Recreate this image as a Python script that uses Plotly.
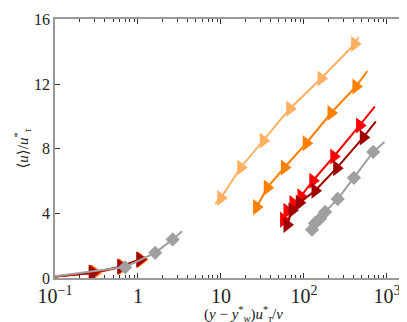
import plotly.graph_objects as go

# inner-scaled mean velocity profiles
lorange_lo_x = [0.1, 0.31, 0.66, 1.10, 1.25]
lorange_lo_y = [0.1, 0.33, 0.70, 1.14, 1.28]
lorange_hi_x = [8.5, 9.95, 17.3, 32.3, 67.5, 161, 408, 456]
lorange_hi_y = [4.6, 4.95, 6.84, 8.5, 10.48, 12.35, 14.48, 14.9]
lorange_mk_x = [0.31, 0.66, 1.10, 9.95, 17.3, 32.3, 67.5, 161, 408]
lorange_mk_y = [0.33, 0.70, 1.14, 4.95, 6.84, 8.5, 10.48, 12.35, 14.48]

orange_lo_x = [0.1, 0.30, 0.65, 1.09, 1.24]
orange_lo_y = [0.1, 0.33, 0.70, 1.14, 1.28]
orange_hi_x = [25, 26.9, 36.1, 58.1, 106.6, 212, 423, 580]
orange_hi_y = [4.2, 4.39, 5.59, 6.84, 8.34, 10.21, 11.85, 12.81]
orange_mk_x = [0.30, 0.65, 1.09, 26.9, 36.1, 58.1, 106.6, 212, 423]
orange_mk_y = [0.33, 0.70, 1.14, 4.39, 5.59, 6.84, 8.34, 10.21, 11.85]

red_lo_x = [0.1, 0.29, 0.63, 1.07, 1.22]
red_lo_y = [0.1, 0.33, 0.70, 1.14, 1.28]
red_hi_x = [55, 56.8, 62.5, 73.8, 92, 128, 229, 469, 714]
red_hi_y = [3.4, 3.61, 4.15, 4.63, 5.05, 6.02, 7.52, 9.44, 10.6]
red_mk_x = [0.29, 0.63, 1.07, 56.8, 62.5, 73.8, 92, 128, 229, 469]
red_mk_y = [0.33, 0.70, 1.14, 3.61, 4.15, 4.63, 5.05, 6.02, 7.52, 9.44]

dred_lo_x = [0.1, 0.28, 0.62, 1.05, 1.2]
dred_lo_y = [0.1, 0.33, 0.70, 1.14, 1.28]
dred_hi_x = [61, 62.5, 71.8, 88, 136, 248, 519, 735]
dred_hi_y = [3.1, 3.29, 4.19, 4.65, 5.40, 6.80, 8.70, 9.70]
dred_mk_x = [0.28, 0.62, 1.05, 62.5, 71.8, 88, 136, 248, 519]
dred_mk_y = [0.33, 0.70, 1.14, 3.29, 4.19, 4.65, 5.40, 6.80, 8.70]

gray_lo_x = [0.1, 0.70, 1.61, 2.62, 3.4]
gray_lo_y = [0.1, 0.68, 1.56, 2.39, 2.9]
gray_hi_x = [125, 136, 157, 180, 255, 400, 684, 933]
gray_hi_y = [2.99, 3.39, 3.69, 4.09, 4.89, 6.20, 7.80, 8.42]
gray_mk_x = [0.70, 1.61, 2.62, 125, 136, 157, 180, 255, 400, 684]
gray_mk_y = [0.66, 1.56, 2.39, 2.99, 3.39, 3.69, 4.09, 4.89, 6.20, 7.80]

y_ticks = [0, 4, 8, 12, 16]

series = [
    ("#FFB062", "triangle-right", lorange_lo_x, lorange_lo_y, lorange_hi_x, lorange_hi_y, lorange_mk_x, lorange_mk_y),
    ("#FF8000", "triangle-right", orange_lo_x, orange_lo_y, orange_hi_x, orange_hi_y, orange_mk_x, orange_mk_y),
    ("#FF0000", "triangle-right", red_lo_x, red_lo_y, red_hi_x, red_hi_y, red_mk_x, red_mk_y),
    ("#A00000", "triangle-right", dred_lo_x, dred_lo_y, dred_hi_x, dred_hi_y, dred_mk_x, dred_mk_y),
    ("#A0A0A0", "diamond", gray_lo_x, gray_lo_y, gray_hi_x, gray_hi_y, gray_mk_x, gray_mk_y),
]

fig = go.Figure()
for color, sym, lx, ly, hx, hy, mx, my in series:
    fig.add_trace(go.Scatter(
        x=lx + [None] + hx, y=ly + [None] + hy,
        mode="lines", line=dict(color=color, width=2),
        showlegend=False, hoverinfo="skip",
    ))
    fig.add_trace(go.Scatter(
        x=mx, y=my, mode="markers",
        marker=dict(symbol=sym, color=color, size=11 if sym == "diamond" else 14,
                    line=dict(width=0)),
        showlegend=False,
    ))

font = dict(family="Liberation Serif, DejaVu Serif, serif", size=16, color="#222222")
title_font = dict(family="Liberation Serif, DejaVu Serif, serif", size=15, color="#222222")

fig.update_layout(
    width=407, height=322,
    margin=dict(l=47, r=3, t=7, b=52),
    plot_bgcolor="white", paper_bgcolor="white",
    font=font,
    xaxis=dict(
        type="log", range=[-1, 3.278], dtick=1, exponentformat="power",
        showgrid=False, zeroline=False,
        showline=True, linecolor="#999999", linewidth=1.5, mirror="ticks",
        ticks="inside", ticklen=5, tickcolor="#333333", tickwidth=1,
        ticklabelstandoff=0, ticklabeloverflow="allow",
        minor=dict(ticks="inside", ticklen=3, tickcolor="#333333", showgrid=False),
    ),
    yaxis=dict(
        range=[0, 16.03], tickvals=y_ticks,
        showgrid=False, zeroline=False,
        showline=True, linecolor="#999999", linewidth=1.5, mirror="ticks",
        ticks="inside", ticklen=5, tickcolor="#333333", tickwidth=1,
        ticklabeloverflow="allow",
    ),
    annotations=[
        dict(text="(<i>y</i> − <i>y</i><sup>*</sup><sub><i>w</i></sub>)<i>u</i><sup>*</sup><sub><i>τ</i></sub>/<i>ν</i>",
             xref="paper", yref="paper", x=0.53, y=0, xanchor="center", yanchor="top",
             yshift=-24, showarrow=False, font=title_font),
        dict(text="⟨<i>u</i>⟩/<i>u</i><sup>*</sup><sub><i>τ</i></sub>",
             xref="paper", yref="paper", x=0, y=0.5, xanchor="center", yanchor="middle",
             xshift=-33, textangle=-90, showarrow=False, font=title_font),
    ],
)

fig.write_html("out.html")
